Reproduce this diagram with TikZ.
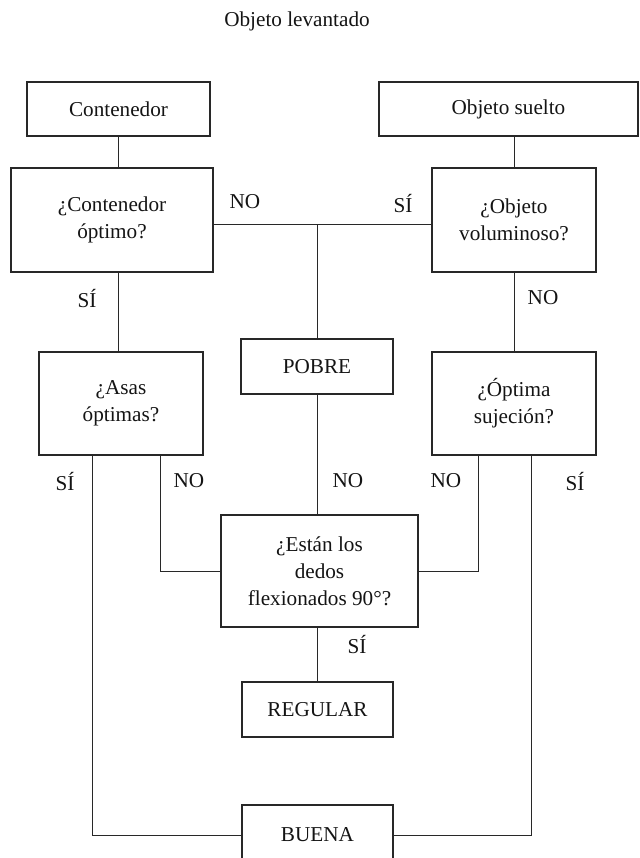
\documentclass[tikz,border=0pt]{standalone}
\usepackage{fontspec}
\setmainfont{Liberation Serif}
\usetikzlibrary{positioning}
\definecolor{linegray}{RGB}{40, 40, 40}
\definecolor{textdark}{RGB}{20, 20, 20}
\tikzset{
    caja/.style={rectangle, draw=linegray, line width=0.55pt, text=textdark, inner sep=0pt, outer sep=0pt, align=center, font=\fontsize{10.6}{13.6}\selectfont},
    etiqueta/.style={text=textdark, inner sep=0pt, font=\fontsize{10.6}{13.6}\selectfont},
    linea/.style={draw=linegray, line width=0.5pt}
}

\begin{document}
\begin{tikzpicture}[x=0.5pt, y=-0.5pt]
            \useasboundingbox (0,0) rectangle (639,858);
            \clip (0,0) rectangle (639,858);
            \node (titulo) [etiqueta] at (297,21) {Objeto levantado};
            \node (cont) [caja, minimum width=91.5pt, minimum height=27pt] at (118.5,109) {Contenedor};
            \node (suelto) [caja, minimum width=129.5pt, minimum height=27pt] at (508.5,109) {Objeto suelto};
            \node (qcont) [caja, minimum width=101pt, minimum height=52pt] at (112,220) {¿Contenedor\\óptimo?};
            \node (qvol) [caja, minimum width=82pt, minimum height=52pt] at (514,220) {¿Objeto\\voluminoso?};
            \node (asas) [caja, minimum width=82pt, minimum height=51.5pt] at (121,403.5) {¿Asas\\óptimas?};
            \node (pobre) [caja, minimum width=76pt, minimum height=27.5pt] at (317,366.5) {POBRE};
            \node (suj) [caja, minimum width=82pt, minimum height=51.5pt] at (514,403.5) {¿Óptima\\sujeción?};
            \node (estan) [caja, minimum width=98.5pt, minimum height=56pt] at (319.5,571) {¿Están los\\dedos\\flexionados 90°?};
            \node (regular) [caja, minimum width=75.5pt, minimum height=27.5pt] at (317.5,709.5) {REGULAR};
            \node (buena) [caja, minimum width=75.5pt, minimum height=30pt] at (317.5,835) {BUENA};

            % respuestas
            \node (no1) [etiqueta] at (245,202) {NO};
            \node (si1) [etiqueta] at (403,203) {SÍ};
            \node (si2) [etiqueta] at (87,298) {SÍ};
            \node (no2) [etiqueta] at (543,298) {NO};
            \node (si3) [etiqueta] at (65,481) {SÍ};
            \node (no3) [etiqueta] at (189,481) {NO};
            \node (no4) [etiqueta] at (348,481) {NO};
            \node (no5) [etiqueta] at (446,481) {NO};
            \node (si4) [etiqueta] at (575,481) {SÍ};
            \node (si5) [etiqueta] at (357,644) {SÍ};

            \coordinate (cruce) at ([yshift=-2pt]pobre.north |- qcont.east);

            \draw [linea] (cont.south) -- (cont.south |- qcont.north);
            \draw [linea] (qvol.north |- suelto.south) -- (qvol.north);
            \draw [linea] ([yshift=-2pt]qcont.east) -- ([yshift=-2pt]qvol.west);
            \draw [linea] (cruce) -- (pobre.north);
            \draw [linea] (qcont.south -| cont.south) -- (cont.south |- asas.north);
            \draw [linea] (qvol.south) -- (suj.north);
            \draw [linea] (pobre.south) -- (pobre.south |- estan.north);
            \draw [linea] ([xshift=19.5pt]asas.south) |- (estan.west);
            \draw [linea] ([xshift=-18pt]suj.south) |- (estan.east);
            \draw [linea] (estan.south -| regular.north) -- (regular.north);
            \draw [linea] ([xshift=-14.5pt]asas.south) |- (buena.west);
            \draw [linea] ([xshift=8.5pt]suj.south) |- (buena.east);
        \end{tikzpicture}
\end{document}
